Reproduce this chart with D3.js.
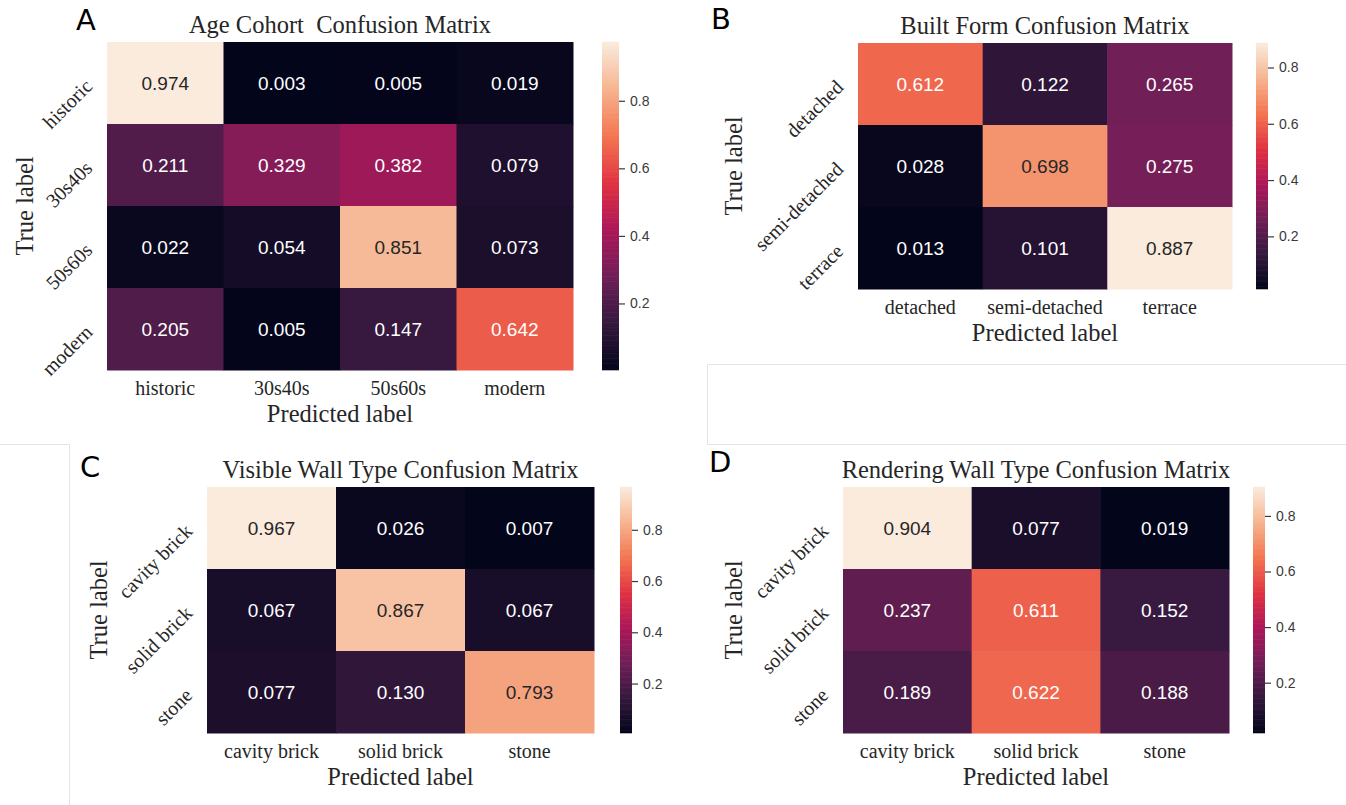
<!DOCTYPE html>
<html>
<head>
<meta charset="utf-8">
<script src="https://cdn.jsdelivr.net/npm/d3@7"></script>
<style>
  body { margin: 0; background: #fff; }
  svg { display: block; }
</style>
</head>
<body>
<script>
// categories and values
const ageCats = ['historic', '30s40s', '50s60s', 'modern'];
const ageValues = [
  [0.974, 0.003, 0.005, 0.019],
  [0.211, 0.329, 0.382, 0.079],
  [0.022, 0.054, 0.851, 0.073],
  [0.205, 0.005, 0.147, 0.642]
];
const formCats = ['detached', 'semi-detached', 'terrace'];
const formValues = [
  [0.612, 0.122, 0.265],
  [0.028, 0.698, 0.275],
  [0.013, 0.101, 0.887]
];
const wallCats = ['cavity brick', 'solid brick', 'stone'];
const visibleValues = [
  [0.967, 0.026, 0.007],
  [0.067, 0.867, 0.067],
  [0.077, 0.130, 0.793]
];
const renderValues = [
  [0.904, 0.077, 0.019],
  [0.237, 0.611, 0.152],
  [0.189, 0.622, 0.188]
];
const colorbarTicks = [0.2, 0.4, 0.6, 0.8];

// seaborn "rocket" colormap stops
const rocketColors = ['#03051a', '#35193e', '#701f57', '#ad1759', '#e13342', '#f37651', '#f6b48f', '#faebdd'];
const rocket = d3.scaleLinear()
  .domain(rocketColors.map((c, i) => i / (rocketColors.length - 1)))
  .range(rocketColors)
  .interpolate(d3.interpolateRgb);

const serif = '"Liberation Serif", "Times New Roman", serif';
const sans = '"Liberation Sans", Arial, sans-serif';
const ink = '#262626';

const svg = d3.select('body').append('svg')
  .attr('width', 1346)
  .attr('height', 805);

svg.append('rect').attr('width', 1346).attr('height', 805).attr('fill', '#fff');

// faint frame lines left over from the screenshot
svg.append('path')
  .attr('d', 'M707.5,364.5H1346M707.5,364.5V444.5H1346M0,444.5H69.5V805')
  .attr('fill', 'none')
  .attr('stroke', '#e4e4e4');

function luminance(c) {
  const rgb = d3.rgb(c);
  const lin = v => { v /= 255; return v <= 0.03928 ? v / 12.92 : Math.pow((v + 0.055) / 1.055, 2.4); };
  return 0.2126 * lin(rgb.r) + 0.7152 * lin(rgb.g) + 0.0722 * lin(rgb.b);
}

function drawPanel(p) {
  const g = svg.append('g');
  const flat = p.values.flat();
  const vmin = d3.min(flat), vmax = d3.max(flat);
  const color = v => rocket((v - vmin) / (vmax - vmin));

  const x = d3.scaleBand().domain(p.cats).range([p.x0, p.x1]);
  const y = d3.scaleBand().domain(p.cats).range([p.y0, p.y1]);

  // cells
  const cells = [];
  p.values.forEach((row, i) => row.forEach((v, j) => cells.push({ r: p.cats[i], c: p.cats[j], v })));

  g.selectAll('rect.cell').data(cells).enter().append('rect')
    .attr('class', 'cell')
    .attr('x', d => x(d.c))
    .attr('y', d => y(d.r))
    .attr('width', x.bandwidth() + 0.5)
    .attr('height', y.bandwidth() + 0.5)
    .attr('fill', d => color(d.v));

  g.selectAll('text.annot').data(cells).enter().append('text')
    .attr('class', 'annot')
    .attr('x', d => x(d.c) + x.bandwidth() / 2)
    .attr('y', d => y(d.r) + y.bandwidth() / 2)
    .attr('dy', '0.36em')
    .attr('text-anchor', 'middle')
    .attr('font-family', sans)
    .attr('font-size', 19)
    .attr('fill', d => luminance(color(d.v)) > 0.408 ? ink : '#ffffff')
    .text(d => d.v.toFixed(3));

  // x tick labels
  const xAxis = g.append('g')
    .attr('transform', `translate(0,${p.y1})`)
    .call(d3.axisBottom(x).tickSize(0));
  xAxis.select('.domain').remove();
  xAxis.selectAll('text')
    .attr('y', 25)
    .attr('dy', 0)
    .attr('font-family', serif)
    .attr('font-size', 20)
    .attr('fill', ink);

  // y tick labels, rotated 45 degrees
  const yAxis = g.append('g')
    .attr('transform', `translate(${p.x0},0)`)
    .call(d3.axisLeft(y).tickSize(0));
  yAxis.select('.domain').remove();
  yAxis.selectAll('text')
    .attr('x', 0)
    .attr('dy', '0.32em')
    .attr('transform', 'translate(-18,0) rotate(-45)')
    .attr('text-anchor', 'end')
    .attr('font-family', serif)
    .attr('font-size', 20)
    .attr('fill', ink);

  // title and axis labels
  g.append('text')
    .attr('x', (p.x0 + p.x1) / 2)
    .attr('y', p.y0 - 9)
    .attr('text-anchor', 'middle')
    .attr('font-family', serif)
    .attr('font-size', 24.5)
    .attr('fill', ink)
    .style('white-space', 'pre')
    .text(p.title);

  g.append('text')
    .attr('x', (p.x0 + p.x1) / 2)
    .attr('y', p.y1 + 52)
    .attr('text-anchor', 'middle')
    .attr('font-family', serif)
    .attr('font-size', 24.5)
    .attr('fill', ink)
    .text('Predicted label');

  g.append('text')
    .attr('transform', `translate(${p.trueX},${(p.y0 + p.y1) / 2}) rotate(-90)`)
    .attr('text-anchor', 'middle')
    .attr('font-family', serif)
    .attr('font-size', 24.5)
    .attr('fill', ink)
    .text('True label');

  // panel letter
  g.append('text')
    .attr('x', p.letterX)
    .attr('y', p.letterY)
    .attr('font-family', '"DejaVu Sans", sans-serif')
    .attr('font-size', 29)
    .attr('fill', '#000')
    .text(p.letter);

  // colorbar
  const cb = d3.scaleLinear().domain([vmin, vmax]).range([p.y1, p.y0]);
  const steps = d3.range(0, 200).map(i => vmin + (vmax - vmin) * i / 200);
  const stepH = (p.y1 - p.y0) / 200;
  g.append('g').selectAll('rect').data(steps).enter().append('rect')
    .attr('x', p.cb0)
    .attr('y', d => cb(d) - stepH - 0.3)
    .attr('width', p.cb1 - p.cb0)
    .attr('height', stepH + 0.6)
    .attr('fill', d => color(d + (vmax - vmin) / 400));

  const cAxis = g.append('g')
    .attr('transform', `translate(${p.cb1},0)`)
    .call(d3.axisRight(cb).tickValues(colorbarTicks).tickSize(6).tickPadding(5).tickFormat(d3.format('.1f')));
  cAxis.select('.domain').remove();
  cAxis.selectAll('line').attr('stroke', '#3a3a3a').attr('stroke-width', 1.2);
  cAxis.selectAll('text')
    .attr('font-family', sans)
    .attr('font-size', 14)
    .attr('fill', '#3a3a3a');
}

const panels = [
  { letter: 'A', title: 'Age Cohort  Confusion Matrix', cats: ageCats, values: ageValues,
    x0: 107, x1: 573, y0: 42, y1: 370, cb0: 602, cb1: 619, trueX: 33, letterX: 76, letterY: 30 },
  { letter: 'B', title: 'Built Form Confusion Matrix', cats: formCats, values: formValues,
    x0: 858, x1: 1232, y0: 43, y1: 289, cb0: 1256, cb1: 1268, trueX: 742, letterX: 711, letterY: 29 },
  { letter: 'C', title: 'Visible Wall Type Confusion Matrix', cats: wallCats, values: visibleValues,
    x0: 207, x1: 594, y0: 487, y1: 733, cb0: 620, cb1: 632, trueX: 107, letterX: 80, letterY: 477 },
  { letter: 'D', title: 'Rendering Wall Type Confusion Matrix', cats: wallCats, values: renderValues,
    x0: 843, x1: 1229, y0: 487, y1: 733, cb0: 1253, cb1: 1265, trueX: 742, letterX: 709, letterY: 472 }
];

panels.forEach(drawPanel);
</script>
</body>
</html>
